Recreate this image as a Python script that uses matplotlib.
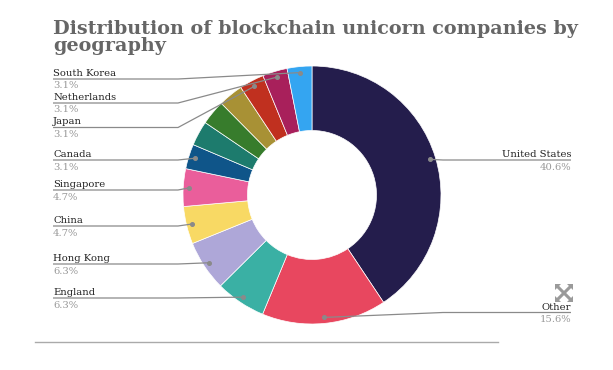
import numpy as np
import matplotlib.pyplot as plt
from matplotlib.patches import Polygon

# slices, clockwise from 12 o'clock
countries = ["United States", "Other", "England", "Hong Kong", "China", "Singapore",
             "Canada", None, None, None, "Japan", "Netherlands", "South Korea"]
shares = [40.6, 15.6, 6.3, 6.3, 4.7, 4.7, 3.1, 3.1, 3.1, 3.1, 3.1, 3.1, 3.1]
colors = ["#241d4c", "#e8475f", "#3ab0a4", "#aea7d8", "#f8d964", "#ea5e9b",
          "#0f5589", "#1d7b6d", "#377c2c", "#a89135", "#c0301f", "#a8205b", "#34a5f1"]

# label placement (pixel rows of the underline, measured from the top)
label_rows = {"South Korea": 79, "Netherlands": 103, "Japan": 127.5, "Canada": 160,
              "Singapore": 190, "China": 226, "Hong Kong": 264, "England": 298,
              "United States": 160, "Other": 312.5}

W, H = 613, 370
cx, cy = 312, H - 195
r_out, r_in = 129, 64.5

fig = plt.figure(figsize=(W / 100, H / 100), dpi=100)
ax = fig.add_axes([0, 0, 1, 1])

ax.pie(shares, colors=colors, startangle=90, counterclock=False, radius=r_out,
       center=(cx, cy), wedgeprops=dict(width=r_out - r_in, edgecolor="white", linewidth=0.5))
ax.set_xlim(0, W)
ax.set_ylim(0, H)
ax.set_aspect("equal")
ax.axis("off")

serif = "DejaVu Serif"
fig.text(53 / W, 1 - 34 / H, "Distribution of blockchain unicorn companies by",
         fontsize=13.8, fontweight="bold", family=serif, color="#666666", va="baseline")
fig.text(53 / W, 1 - 51 / H, "geography",
         fontsize=13.8, fontweight="bold", family=serif, color="#666666", va="baseline")

total = sum(shares)
cum = np.cumsum([0] + shares) / total
line_col = "#8a8a8a"
for i, name in enumerate(countries):
    if name is None:
        continue
    mid = (cum[i] + cum[i + 1]) / 2 * 2 * np.pi
    dx = cx + 123 * np.sin(mid)
    dy = cy + 123 * np.cos(mid)
    ly = H - label_rows[name]
    if np.sin(mid) > 0:
        xs = [dx, cx + 131, 571]
        tx, ha = 571, "right"
    else:
        xs = [dx, min(cx - 134, dx), 53]
        tx, ha = 53, "left"
    ax.plot(xs, [dy, ly, ly], color=line_col, lw=0.9, solid_capstyle="butt")
    ax.plot(dx, dy, "o", ms=2.6, color=line_col)
    ax.text(tx, ly + 3, name, ha=ha, va="baseline", fontsize=7.2, family=serif, color="#222222")
    ax.text(tx, ly - 2.5, f"{shares[i]:.1f}%", ha=ha, va="top", fontsize=7.2,
            family=serif, color="#999999")

# bottom rule
ax.plot([35, 498], [H - 342, H - 342], color="#aaaaaa", lw=1)

# expand icon
ix, iy = 564, H - 293
icon_col = "#9a9a9a"
ax.plot([ix - 6, ix + 6], [iy - 6, iy + 6], color=icon_col, lw=2.2)
ax.plot([ix - 6, ix + 6], [iy + 6, iy - 6], color=icon_col, lw=2.2)
for sx, sy in [(1, 1), (-1, 1), (1, -1), (-1, -1)]:
    ax.add_patch(Polygon([(ix + sx * 9, iy + sy * 9), (ix + sx * 9, iy + sy * 3),
                          (ix + sx * 3, iy + sy * 9)], closed=True, color=icon_col, lw=0))

fig.savefig("out.png", dpi=100)
